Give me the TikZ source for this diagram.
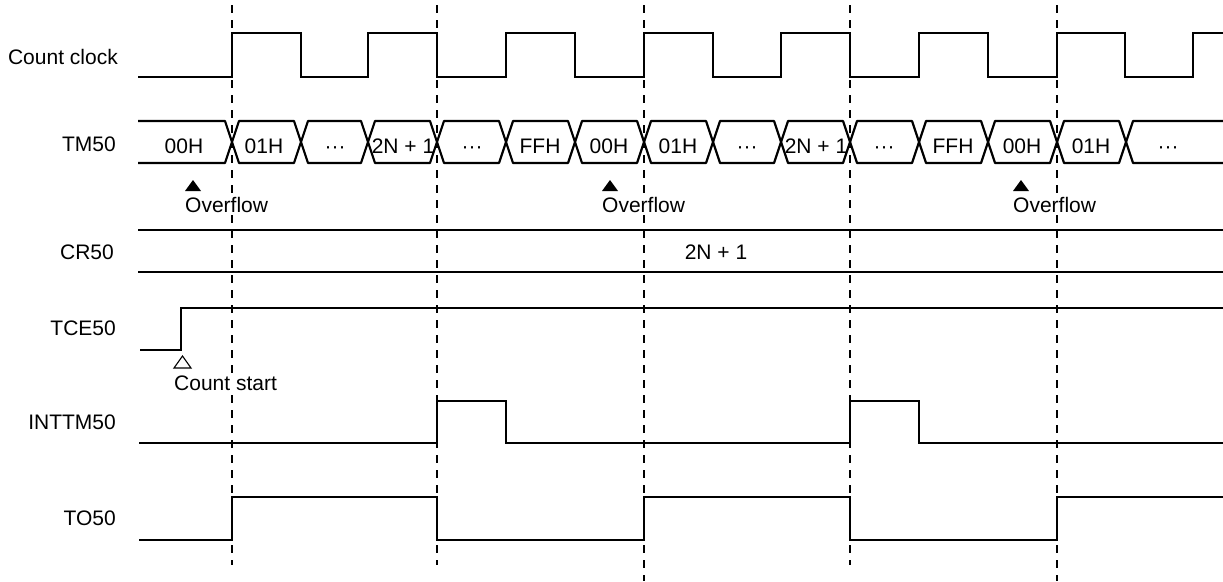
\documentclass[tikz,border=0pt]{standalone}
\usepackage{fontspec}
\setmainfont{Liberation Sans}
\usetikzlibrary{positioning}

\begin{document}
\begin{tikzpicture}[
    x=1pt, y=-1pt,
    every node/.style={font=\fontsize{21}{25}\selectfont, inner sep=0pt},
    sig/.style={line width=2.2pt, line join=miter},
    bus/.style={line width=2.2pt, line join=round},
    guide/.style={line width=1.1pt, dash pattern=on 8pt off 7pt},
    signame/.style={anchor=east},
    val/.style={anchor=base},
    note/.style={anchor=north west, fill=white, inner sep=1pt}
]
    \useasboundingbox (0,0) rectangle (1223,581);

    % dashed reference lines
    \foreach \x/\e in {232/565, 437/565, 644/581, 850/565, 1057/581}
        \draw [guide] (\x,5) -- (\x,\e);

    % signal names
    \node [signame] (nclk) at (118,57) {Count clock};
    \node [signame] (ntm) at (116,144) {TM50};
    \node [signame] (ncr) at (114,252) {CR50};
    \node [signame] (ntce) at (116,328) {TCE50};
    \node [signame] (nint) at (116,422) {INTTM50};
    \node [signame] (nto) at (116,518) {TO50};

    % count clock
    \draw [sig] (138,77) -| (232,33) -| (301,77) -| (368,33) -| (437,77) -| (506,33)
        -| (575,77) -| (644,33) -| (713,77) -| (781,33) -| (850,77) -| (919,33)
        -| (988,77) -| (1057,33) -| (1125,77) -| (1193,33) -- (1223,33);

    % TM50 count values
    \draw [bus] (138,121) -- (225,121) -- (232,142) -- (225,163) -- (138,163);
    \foreach \a/\b in {232/301, 301/368, 368/437, 437/506, 506/575, 575/644, 644/713,
                       713/781, 781/850, 850/919, 919/988, 988/1057, 1057/1126}
        \draw [bus] (\a,142) -- (\a+7,121) -- (\b-7,121) -- (\b,142) -- (\b-7,163) -- (\a+7,163) -- cycle;
    \draw [bus] (1223,121) -- (1133,121) -- (1126,142) -- (1133,163) -- (1223,163);
    \foreach \x/\t [count=\i] in {184/00H, 264/01H, 335/···, 403/2N + 1, 472/···,
                                  540/FFH, 609/00H, 678/01H, 747/···, 816/2N + 1,
                                  884/···, 953/FFH, 1022/00H, 1091/01H, 1168/···}
        \node [val] (tm\i) at (\x,153) {\t};

    % overflow marks
    \coordinate (of1) at (193,180);
    \coordinate (of2) at (610,180);
    \coordinate (of3) at (1021,180);
    \foreach \i in {1,2,3} {
        \fill (of\i) -- ++(8,11) -- ++(-16,0) -- cycle;
        \node [note, below right=16pt and -9pt of of\i] (ovf\i) {Overflow};
    }

    % CR50
    \draw [bus] (138,230) -- (1223,230);
    \draw [bus] (138,272) -- (1223,272);
    \node (cr) at (716,252) {2N + 1};

    % TCE50
    \draw [sig] (140,350) -| (181,308) -- (1223,308);
    \coordinate (cs) at (182.5,356);
    \draw [line width=1.1pt] (cs) -- ++(8.5,12) -- ++(-17,0) -- cycle;
    \node [note, below right=19pt and -9.5pt of cs] (start) {Count start};

    % INTTM50
    \draw [sig] (139,443) -| (437,401) -| (506,443) -| (850,401) -| (919,443) -- (1223,443);

    % TO50
    \draw [sig] (139,540) -| (232,497) -| (437,540) -| (644,497) -| (850,540) -| (1057,497) -- (1223,497);
\end{tikzpicture}
\end{document}
